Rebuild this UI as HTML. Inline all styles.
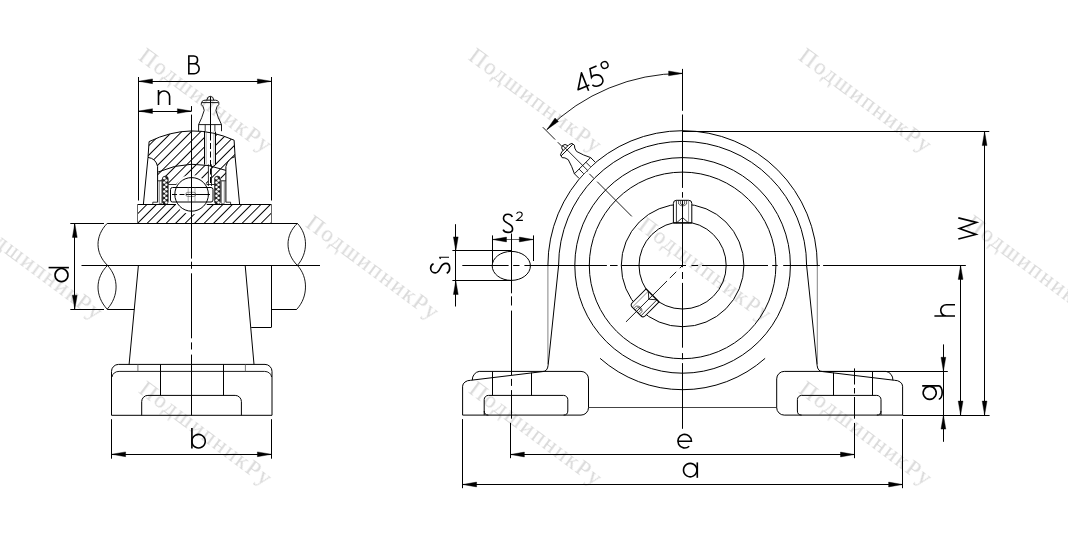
<!DOCTYPE html>
<html><head><meta charset="utf-8"><style>
html,body{margin:0;padding:0;background:#fff;overflow:hidden;}
svg{display:block;}
</style></head><body>
<svg width="1068" height="541" viewBox="0 0 1068 541">
<defs>
<pattern id="h" patternUnits="userSpaceOnUse" width="6.7175" height="10" patternTransform="rotate(45) translate(3.29 0)">
<line x1="3.36" y1="-1" x2="3.36" y2="11" stroke="#000" stroke-width="1"/>
</pattern>
</defs>
<rect width="1068" height="541" fill="#fff"/>
<g opacity="0.995">
<text x="137.5" y="58.5" font-family="Liberation Serif" font-size="23" letter-spacing="1.7" fill="#dadada" transform="rotate(36.6 137.5 58.5)">ПодшипникРу</text>
<text x="467.5" y="58.5" font-family="Liberation Serif" font-size="23" letter-spacing="1.7" fill="#dadada" transform="rotate(36.6 467.5 58.5)">ПодшипникРу</text>
<text x="797.5" y="58.5" font-family="Liberation Serif" font-size="23" letter-spacing="1.7" fill="#dadada" transform="rotate(36.6 797.5 58.5)">ПодшипникРу</text>
<text x="-32" y="226" font-family="Liberation Serif" font-size="23" letter-spacing="1.7" fill="#dadada" transform="rotate(36.6 -32 226)">ПодшипникРу</text>
<text x="304.5" y="226" font-family="Liberation Serif" font-size="23" letter-spacing="1.7" fill="#dadada" transform="rotate(36.6 304.5 226)">ПодшипникРу</text>
<text x="636.7" y="228.3" font-family="Liberation Serif" font-size="23" letter-spacing="1.7" fill="#dadada" transform="rotate(36.6 636.7 228.3)">ПодшипникРу</text>
<text x="964.5" y="226" font-family="Liberation Serif" font-size="23" letter-spacing="1.7" fill="#dadada" transform="rotate(36.6 964.5 226)">ПодшипникРу</text>
<text x="137.5" y="392" font-family="Liberation Serif" font-size="23" letter-spacing="1.7" fill="#dadada" transform="rotate(36.6 137.5 392)">ПодшипникРу</text>
<text x="467.5" y="392" font-family="Liberation Serif" font-size="23" letter-spacing="1.7" fill="#dadada" transform="rotate(36.6 467.5 392)">ПодшипникРу</text>
<text x="797.5" y="392" font-family="Liberation Serif" font-size="23" letter-spacing="1.7" fill="#dadada" transform="rotate(36.6 797.5 392)">ПодшипникРу</text>
</g>
<path d="M149.1,141.6 Q191.4,121.0 234.1,140.2 L235.1,156.6 Q228,158.5 225.9,166.5 L225.9,170.4 Q191.4,157.2 157.6,172.2 L157.6,166.5 Q156,158.5 148.0,157.4 Z" fill="url(#h)" stroke="none"/>
<path d="M157.6,172.2 Q191.4,157.2 225.9,170.4 L225.9,180.8 L221.0,180.8 L221.0,176.2 L214.5,176.2 L214.5,184.5 L206.5,184.5 A16.8,16.8 0 0 0 176.3,184.5 L168.3,184.5 L168.3,176.2 L162.4,176.2 L162.4,180.8 L157.6,180.8 Z" fill="url(#h)" stroke="none"/>
<path d="M137.8,204.2 L176.0,204.2 A16.8,16.8 0 0 0 206.8,204.2 L271.4,204.2 L271.4,223.4 L137.8,223.4 Z" fill="url(#h)" stroke="none"/>
<rect x="204.6" y="128" width="10.9" height="37" fill="#fff"/>
<rect x="208.4" y="160" width="3.1" height="25" fill="#fff"/>
<path d="M149.1,141.6 Q191.4,121.0 234.1,140.2" stroke="#000" stroke-width="1.0" fill="none" />
<path d="M149.1,141.6 L148.0,157.4 Q156,158.5 157.6,166.5 L157.6,202.2" stroke="#000" stroke-width="1.0" fill="none" />
<path d="M234.1,140.2 L235.1,156.6 Q228,158.5 225.9,166.5 L225.9,202.2" stroke="#000" stroke-width="1.0" fill="none" />
<line x1="148.00" y1="157.40" x2="143.40" y2="204.20" stroke="#000" stroke-width="1.0" />
<line x1="235.10" y1="156.60" x2="239.60" y2="204.20" stroke="#000" stroke-width="1.0" />
<path d="M157.6,202.2 L152.8,202.2 L152.8,204.2" stroke="#000" stroke-width="0.8" fill="none" />
<path d="M225.9,202.2 L230.6,202.2 L230.6,204.2" stroke="#000" stroke-width="0.8" fill="none" />
<path d="M157.6,172.2 Q191.4,157.2 225.9,170.4" stroke="#000" stroke-width="1.0" fill="none" />
<path d="M162.4,180.8 L157.6,180.8" stroke="#000" stroke-width="0.8" fill="none" />
<path d="M221.0,180.8 L225.9,180.8" stroke="#000" stroke-width="0.8" fill="none" />
<path d="M168.3,184.5 L176.3,184.5" stroke="#000" stroke-width="0.8" fill="none" />
<path d="M206.5,184.5 L214.5,184.5" stroke="#000" stroke-width="0.8" fill="none" />
<rect x="159.2" y="180.8" width="2.6" height="22.6" fill="none" stroke="#555" stroke-width="0.7"/>
<rect x="221.6" y="180.8" width="2.6" height="22.6" fill="none" stroke="#555" stroke-width="0.7"/>
<rect x="162.4" y="176.2" width="5.8" height="28" rx="2.6" fill="#222" stroke="#000" stroke-width="0.6"/>
<circle cx="164.30" cy="178.20" r="1.25" fill="#fff"/>
<circle cx="166.30" cy="180.40" r="1.25" fill="#fff"/>
<circle cx="164.30" cy="182.60" r="1.25" fill="#fff"/>
<circle cx="166.30" cy="184.80" r="1.25" fill="#fff"/>
<circle cx="164.30" cy="187.00" r="1.25" fill="#fff"/>
<circle cx="166.30" cy="189.20" r="1.25" fill="#fff"/>
<circle cx="164.30" cy="191.40" r="1.25" fill="#fff"/>
<circle cx="166.30" cy="193.60" r="1.25" fill="#fff"/>
<circle cx="164.30" cy="195.80" r="1.25" fill="#fff"/>
<circle cx="166.30" cy="198.00" r="1.25" fill="#fff"/>
<circle cx="164.30" cy="200.20" r="1.25" fill="#fff"/>
<circle cx="166.30" cy="202.40" r="1.25" fill="#fff"/>
<rect x="214.6" y="176.2" width="5.8" height="28" rx="2.6" fill="#222" stroke="#000" stroke-width="0.6"/>
<circle cx="216.50" cy="178.20" r="1.25" fill="#fff"/>
<circle cx="218.50" cy="180.40" r="1.25" fill="#fff"/>
<circle cx="216.50" cy="182.60" r="1.25" fill="#fff"/>
<circle cx="218.50" cy="184.80" r="1.25" fill="#fff"/>
<circle cx="216.50" cy="187.00" r="1.25" fill="#fff"/>
<circle cx="218.50" cy="189.20" r="1.25" fill="#fff"/>
<circle cx="216.50" cy="191.40" r="1.25" fill="#fff"/>
<circle cx="218.50" cy="193.60" r="1.25" fill="#fff"/>
<circle cx="216.50" cy="195.80" r="1.25" fill="#fff"/>
<circle cx="218.50" cy="198.00" r="1.25" fill="#fff"/>
<circle cx="216.50" cy="200.20" r="1.25" fill="#fff"/>
<circle cx="218.50" cy="202.40" r="1.25" fill="#fff"/>
<circle cx="191.6" cy="194.4" r="16.8" stroke="#000" stroke-width="1.0" fill="none"/>
<rect x="170.5" y="187.5" width="42.5" height="14.5" rx="2" fill="none" stroke="#000" stroke-width="1"/>
<line x1="172.00" y1="194.50" x2="186.00" y2="194.50" stroke="#000" stroke-width="1.0" stroke-dasharray="5,2.5"/>
<line x1="186.00" y1="194.50" x2="210.00" y2="194.50" stroke="#000" stroke-width="1.0" />
<rect x="185.8" y="192.3" width="10" height="4.2" rx="2" fill="none" stroke="#444" stroke-width="0.6"/>
<line x1="188.20" y1="187.20" x2="188.20" y2="202.20" stroke="#666" stroke-width="0.5" />
<line x1="195.00" y1="187.20" x2="195.00" y2="202.20" stroke="#666" stroke-width="0.5" />
<line x1="204.50" y1="131.00" x2="204.50" y2="164.60" stroke="#000" stroke-width="1.0" />
<line x1="215.50" y1="131.60" x2="215.50" y2="165.00" stroke="#000" stroke-width="1.0" />
<line x1="206.20" y1="131.00" x2="206.20" y2="164.40" stroke="#777" stroke-width="0.6" />
<line x1="213.90" y1="131.40" x2="213.90" y2="164.80" stroke="#777" stroke-width="0.6" />
<line x1="210.50" y1="96.50" x2="210.50" y2="140.50" stroke="#000" stroke-width="1.0" />
<line x1="210.50" y1="143.00" x2="210.50" y2="184.00" stroke="#000" stroke-width="1.0" stroke-dasharray="6,2.5"/>
<line x1="208.40" y1="164.40" x2="208.40" y2="186.00" stroke="#000" stroke-width="0.8" />
<line x1="211.50" y1="164.40" x2="211.50" y2="186.00" stroke="#000" stroke-width="0.8" />
<line x1="137.80" y1="204.50" x2="176.00" y2="204.50" stroke="#000" stroke-width="1.0" />
<line x1="206.80" y1="204.50" x2="271.40" y2="204.50" stroke="#000" stroke-width="1.0" />
<line x1="137.50" y1="204.20" x2="137.50" y2="223.40" stroke="#666" stroke-width="1.0" />
<line x1="271.50" y1="204.20" x2="271.50" y2="223.40" stroke="#666" stroke-width="1.0" />
<path d="M198.6,131.2 L198.6,124.6 L221.5,124.6 L221.5,131.2 M198.6,124.6 Q202.0,118 204.2,110.3 Q203.5,106 201.3,104.5 Q201.0,100.5 205,100.2 L215.5,100.2 Q219.5,100.5 218.8,104.5 Q216.6,106 215.9,110.3 Q218,118 221.5,124.6 M206.8,100.2 Q207.2,96.3 210.3,96.3 Q213.4,96.3 213.8,100.2 M201.8,102.6 L218.4,102.6" stroke="#000" stroke-width="0.9" fill="none" />
<line x1="205.20" y1="124.60" x2="205.20" y2="131.20" stroke="#000" stroke-width="0.8" />
<line x1="214.90" y1="124.60" x2="214.90" y2="131.20" stroke="#000" stroke-width="0.8" />
<line x1="107.20" y1="223.50" x2="297.40" y2="223.50" stroke="#000" stroke-width="1.0" />
<line x1="107.20" y1="309.50" x2="134.30" y2="309.50" stroke="#000" stroke-width="1.0" />
<line x1="271.40" y1="309.50" x2="296.80" y2="309.50" stroke="#000" stroke-width="1.0" />
<path d="M107.2,223.4 C94.9,236 94.9,253 107.5,265.4" stroke="#000" stroke-width="0.9" fill="none" />
<path d="M107.5,265.4 C94.9,278 94.9,296 107.2,309.2" stroke="#000" stroke-width="0.9" fill="none" />
<path d="M107.5,265.4 C119.0,278 119.0,296 107.2,309.2" stroke="#000" stroke-width="0.9" fill="none" />
<path d="M297.4,223.4 C284.9,235 284.9,253 297.4,265.4" stroke="#000" stroke-width="0.9" fill="none" />
<path d="M297.4,223.4 C308.2,235 308.2,253 297.4,265.4" stroke="#000" stroke-width="0.9" fill="none" />
<path d="M297.4,265.4 C308.3,277 308.3,297 296.8,309.2" stroke="#000" stroke-width="0.9" fill="none" />
<line x1="138.40" y1="265.40" x2="129.10" y2="364.40" stroke="#000" stroke-width="1.0" />
<line x1="245.20" y1="265.40" x2="254.00" y2="364.40" stroke="#000" stroke-width="1.0" />
<line x1="271.50" y1="265.40" x2="271.50" y2="327.30" stroke="#000" stroke-width="1.0" />
<line x1="251.20" y1="327.50" x2="271.40" y2="327.50" stroke="#000" stroke-width="1.0" />
<path d="M111.5,415.3 L111.5,371.4 A7,7 0 0 1 118.5,364.4 L265.0,364.4 A7,7 0 0 1 272.0,371.4 L272.0,415.3 Z" stroke="#000" stroke-width="1.0" fill="none" />
<path d="M112.0,377.0 A7,6 0 0 1 119.1,371.4 L264.6,371.4 A7,6 0 0 1 271.6,377.0" stroke="#000" stroke-width="0.9" fill="none" />
<line x1="137.90" y1="364.40" x2="137.90" y2="371.40" stroke="#555" stroke-width="0.8" />
<line x1="245.40" y1="364.40" x2="245.40" y2="371.40" stroke="#555" stroke-width="0.8" />
<line x1="160.50" y1="364.40" x2="160.50" y2="395.40" stroke="#000" stroke-width="1.0" />
<line x1="223.50" y1="364.40" x2="223.50" y2="395.40" stroke="#000" stroke-width="1.0" />
<path d="M141.7,415.3 L141.7,401.6 A6.2,6.2 0 0 1 147.9,395.4 L235.2,395.4 A6.2,6.2 0 0 1 241.4,401.6 L241.4,415.3" stroke="#000" stroke-width="1.0" fill="none" />
<line x1="191.50" y1="106.10" x2="191.50" y2="111.20" stroke="#000" stroke-width="1.0" />
<line x1="191.50" y1="114.60" x2="191.50" y2="258.60" stroke="#000" stroke-width="1.0" />
<line x1="191.50" y1="261.70" x2="191.50" y2="268.80" stroke="#000" stroke-width="1.0" />
<line x1="191.50" y1="273.30" x2="191.50" y2="338.30" stroke="#000" stroke-width="1.0" />
<line x1="191.50" y1="342.40" x2="191.50" y2="349.50" stroke="#000" stroke-width="1.0" />
<line x1="191.50" y1="354.60" x2="191.50" y2="415.30" stroke="#000" stroke-width="1.0" />
<line x1="81.50" y1="265.50" x2="320.00" y2="265.50" stroke="#000" stroke-width="1.0" />
<line x1="138.50" y1="77.00" x2="138.50" y2="200.50" stroke="#000" stroke-width="1.0" />
<line x1="271.50" y1="77.00" x2="271.50" y2="200.50" stroke="#000" stroke-width="1.0" />
<line x1="138.50" y1="81.50" x2="271.40" y2="81.50" stroke="#000" stroke-width="1.0" />
<path d="M138.50,81.30 L152.50,78.90 L152.50,83.70 Z" fill="#000" stroke="#000" stroke-width="0.4"/>
<path d="M271.40,81.30 L257.40,83.70 L257.40,78.90 Z" fill="#000" stroke="#000" stroke-width="0.4"/>
<line x1="138.50" y1="111.50" x2="191.40" y2="111.50" stroke="#000" stroke-width="1.0" />
<path d="M138.50,111.10 L152.50,108.70 L152.50,113.50 Z" fill="#000" stroke="#000" stroke-width="0.4"/>
<path d="M191.40,111.10 L177.40,113.50 L177.40,108.70 Z" fill="#000" stroke="#000" stroke-width="0.4"/>
<line x1="70.30" y1="223.50" x2="104.00" y2="223.50" stroke="#000" stroke-width="1.0" />
<line x1="70.30" y1="309.50" x2="104.00" y2="309.50" stroke="#000" stroke-width="1.0" />
<line x1="74.50" y1="223.40" x2="74.50" y2="309.20" stroke="#000" stroke-width="1.0" />
<path d="M74.80,223.40 L77.20,237.40 L72.40,237.40 Z" fill="#000" stroke="#000" stroke-width="0.4"/>
<path d="M74.80,309.20 L72.40,295.20 L77.20,295.20 Z" fill="#000" stroke="#000" stroke-width="0.4"/>
<line x1="111.50" y1="419.20" x2="111.50" y2="458.70" stroke="#000" stroke-width="1.0" />
<line x1="271.50" y1="419.20" x2="271.50" y2="458.70" stroke="#000" stroke-width="1.0" />
<line x1="111.60" y1="454.50" x2="271.40" y2="454.50" stroke="#000" stroke-width="1.0" />
<path d="M111.60,454.30 L125.60,451.90 L125.60,456.70 Z" fill="#000" stroke="#000" stroke-width="0.4"/>
<path d="M271.40,454.30 L257.40,456.70 L257.40,451.90 Z" fill="#000" stroke="#000" stroke-width="0.4"/>
<path d="M547.9,265.4 A134.7,134.7 0 0 1 817.3,265.4" stroke="#000" stroke-width="1.0" fill="none" />
<line x1="547.90" y1="265.40" x2="547.90" y2="364.00" stroke="#666" stroke-width="0.8" />
<line x1="817.30" y1="265.40" x2="817.30" y2="364.00" stroke="#666" stroke-width="0.8" />
<path d="M558.6,265.4 A124,124 0 0 1 806.6,265.4" stroke="#000" stroke-width="1.0" fill="none" />
<path d="M558.6,265.4 L548.1,365.3 Q547.6,371.4 542.5,371.6" stroke="#000" stroke-width="1.0" fill="none" />
<path d="M806.6,265.4 L817.1,365.3 Q817.6,371.4 822.7,371.6" stroke="#000" stroke-width="1.0" fill="none" />
<circle cx="682.6" cy="265.4" r="107.8" stroke="#000" stroke-width="1.0" fill="none"/>
<circle cx="682.6" cy="265.4" r="93.3" stroke="#000" stroke-width="1.0" fill="none"/>
<circle cx="682.6" cy="265.4" r="61.3" stroke="#000" stroke-width="1.0" fill="none"/>
<circle cx="682.6" cy="265.4" r="43.6" stroke="#000" stroke-width="1.0" fill="none"/>
<path d="M765.13,358.35 A124.3,124.3 0 0 1 600.07,358.35" stroke="#000" stroke-width="1.0" fill="none" />
<line x1="588.50" y1="407.50" x2="776.70" y2="407.50" stroke="#444" stroke-width="1.0" />
<path d="M588.50,407.6 A7.5,7.5 0 0 1 581.00,415.1 L462.60,415.1 L462.60,386.2 A8,6 0 0 1 470.60,380.3 L542.50,371.6" stroke="#000" stroke-width="1.0" fill="none" />
<path d="M472.30,380.2 A8,8.5 0 0 1 479.20,371.4 L581.00,371.4 A7.5,7.5 0 0 1 588.50,378.9 L588.50,407.6" stroke="#000" stroke-width="1.0" fill="none" />
<path d="M484.20,415.1 L484.20,399.6 A4.2,4.2 0 0 1 488.40,395.4 L563.60,395.4 A4.2,4.2 0 0 1 567.80,399.6 L567.80,411 A4.2,4.2 0 0 1 563.60,415.1" stroke="#000" stroke-width="1.0" fill="none" />
<path d="M484.20,411 A4.2,4.2 0 0 0 488.40,415.1" stroke="#000" stroke-width="1.0" fill="none" />
<line x1="492.50" y1="371.40" x2="492.50" y2="395.40" stroke="#000" stroke-width="1.0" />
<line x1="531.50" y1="372.60" x2="531.50" y2="395.40" stroke="#000" stroke-width="1.0" />
<path d="M776.70,407.6 A7.5,7.5 0 0 0 784.20,415.1 L902.60,415.1 L902.60,386.2 A8,6 0 0 0 894.60,380.3 L822.70,371.6" stroke="#000" stroke-width="1.0" fill="none" />
<path d="M892.90,380.2 A8,8.5 0 0 0 886.00,371.4 L784.20,371.4 A7.5,7.5 0 0 0 776.70,378.9 L776.70,407.6" stroke="#000" stroke-width="1.0" fill="none" />
<path d="M881.00,415.1 L881.00,399.6 A4.2,4.2 0 0 0 876.80,395.4 L801.60,395.4 A4.2,4.2 0 0 0 797.40,399.6 L797.40,411 A4.2,4.2 0 0 0 801.60,415.1" stroke="#000" stroke-width="1.0" fill="none" />
<path d="M881.00,411 A4.2,4.2 0 0 1 876.80,415.1" stroke="#000" stroke-width="1.0" fill="none" />
<line x1="872.50" y1="371.40" x2="872.50" y2="395.40" stroke="#000" stroke-width="1.0" />
<line x1="833.50" y1="372.60" x2="833.50" y2="395.40" stroke="#000" stroke-width="1.0" />
<g transform="rotate(0 682.6 265.4)"><path d="M673.4,222.9 L673.4,203.4 Q673.4,200.3 676.4,200.3 L688.8000000000001,200.3 Q691.8000000000001,200.3 691.8000000000001,203.4 L691.8000000000001,222.9 Z" fill="#fff" stroke="#000" stroke-width="1"/><line x1="676.4" y1="200.5" x2="676.4" y2="222.9" stroke="#000" stroke-width="0.8"/><line x1="688.6" y1="200.5" x2="688.6" y2="222.9" stroke="#777" stroke-width="0.8"/><path d="M676.4,222.9 L682.6,217.6 L688.6,222.9" fill="none" stroke="#000" stroke-width="0.8"/><path d="M678.6,200.5 L678.6,204 Q682.6,208 686.6,204 L686.6,200.5 M680.6,200.5 L680.6,204 Q682.6,206 684.6,204 L684.6,200.5" fill="none" stroke="#000" stroke-width="0.6"/><line x1="673.4" y1="222.9" x2="691.8000000000001" y2="222.9" stroke="#000" stroke-width="1.2"/></g>
<g transform="rotate(-135 682.6 265.4)"><path d="M673.4,222.9 L673.4,203.4 Q673.4,200.3 676.4,200.3 L688.8000000000001,200.3 Q691.8000000000001,200.3 691.8000000000001,203.4 L691.8000000000001,222.9 Z" fill="#fff" stroke="#000" stroke-width="1"/><line x1="676.4" y1="200.5" x2="676.4" y2="222.9" stroke="#000" stroke-width="0.8"/><line x1="688.6" y1="200.5" x2="688.6" y2="222.9" stroke="#777" stroke-width="0.8"/><path d="M676.4,222.9 L682.6,217.6 L688.6,222.9" fill="none" stroke="#000" stroke-width="0.8"/><path d="M678.6,200.5 L678.6,204 Q682.6,208 686.6,204 L686.6,200.5 M680.6,200.5 L680.6,204 Q682.6,206 684.6,204 L684.6,200.5" fill="none" stroke="#000" stroke-width="0.6"/><line x1="673.4" y1="222.9" x2="691.8000000000001" y2="222.9" stroke="#000" stroke-width="1.2"/></g>
<line x1="682.50" y1="68.90" x2="682.50" y2="110.80" stroke="#000" stroke-width="1.0" />
<line x1="682.50" y1="114.50" x2="682.50" y2="187.90" stroke="#000" stroke-width="1.0" />
<line x1="682.50" y1="192.10" x2="682.50" y2="197.70" stroke="#000" stroke-width="1.0" />
<line x1="682.50" y1="200.30" x2="682.50" y2="267.20" stroke="#000" stroke-width="1.0" />
<line x1="682.50" y1="272.00" x2="682.50" y2="279.00" stroke="#000" stroke-width="1.0" />
<line x1="682.50" y1="282.90" x2="682.50" y2="347.70" stroke="#000" stroke-width="1.0" />
<line x1="682.50" y1="353.10" x2="682.50" y2="359.40" stroke="#000" stroke-width="1.0" />
<line x1="682.50" y1="363.10" x2="682.50" y2="428.80" stroke="#000" stroke-width="1.0" />
<line x1="462.30" y1="265.50" x2="508.60" y2="265.50" stroke="#000" stroke-width="1.0" />
<line x1="513.20" y1="265.50" x2="519.50" y2="265.50" stroke="#000" stroke-width="1.0" />
<line x1="524.40" y1="265.50" x2="606.90" y2="265.50" stroke="#000" stroke-width="1.0" />
<line x1="610.00" y1="265.50" x2="617.60" y2="265.50" stroke="#000" stroke-width="1.0" />
<line x1="621.30" y1="265.50" x2="686.00" y2="265.50" stroke="#000" stroke-width="1.0" />
<line x1="691.50" y1="265.50" x2="698.20" y2="265.50" stroke="#000" stroke-width="1.0" />
<line x1="701.90" y1="265.50" x2="768.00" y2="265.50" stroke="#000" stroke-width="1.0" />
<line x1="772.20" y1="265.50" x2="777.70" y2="265.50" stroke="#000" stroke-width="1.0" />
<line x1="783.20" y1="265.50" x2="819.90" y2="265.50" stroke="#000" stroke-width="1.0" />
<line x1="823.30" y1="265.50" x2="965.60" y2="265.50" stroke="#000" stroke-width="1.0" />
<line x1="682.60" y1="265.40" x2="679.77" y2="268.23" stroke="#000" stroke-width="0.9" />
<line x1="676.23" y1="271.76" x2="669.86" y2="278.12" stroke="#000" stroke-width="0.9" />
<line x1="667.03" y1="280.94" x2="625.98" y2="321.92" stroke="#000" stroke-width="0.9" />
<line x1="542.80" y1="127.20" x2="555.16" y2="139.59" stroke="#000" stroke-width="0.9" />
<line x1="557.77" y1="142.21" x2="587.30" y2="171.80" stroke="#000" stroke-width="0.9" />
<line x1="589.35" y1="173.85" x2="593.87" y2="178.38" stroke="#000" stroke-width="0.9" />
<line x1="597.12" y1="181.64" x2="631.80" y2="216.40" stroke="#000" stroke-width="0.9" />
<g transform="translate(587.35 170.15) rotate(-45) translate(-210.3 -131.2)"><path d="M198.6,131.2 L198.6,124.6 L221.5,124.6 L221.5,131.2 M198.6,124.6 Q202.0,118 204.2,110.3 Q203.5,106 201.3,104.5 Q201.0,100.5 205,100.2 L215.5,100.2 Q219.5,100.5 218.8,104.5 Q216.6,106 215.9,110.3 Q218,118 221.5,124.6 M206.8,100.2 Q207.2,96.3 210.3,96.3 Q213.4,96.3 213.8,100.2 M201.8,102.6 L218.4,102.6" fill="#fff" stroke="#000" stroke-width="0.9"/><line x1="205.2" y1="124.6" x2="205.2" y2="131.2" stroke="#000" stroke-width="0.8"/><line x1="214.9" y1="124.6" x2="214.9" y2="131.2" stroke="#000" stroke-width="0.8"/><line x1="210.3" y1="96" x2="210.3" y2="132" stroke="#000" stroke-width="0.8"/></g>
<ellipse cx="511.3" cy="265.9" rx="19.1" ry="14.5" fill="none" stroke="#000" stroke-width="1"/>
<line x1="511.50" y1="233.50" x2="511.50" y2="293.30" stroke="#000" stroke-width="1.0" />
<line x1="511.50" y1="296.30" x2="511.50" y2="305.50" stroke="#000" stroke-width="1.0" />
<line x1="511.50" y1="310.60" x2="511.50" y2="375.00" stroke="#000" stroke-width="1.0" />
<line x1="511.50" y1="378.90" x2="511.50" y2="385.90" stroke="#000" stroke-width="1.0" />
<line x1="511.50" y1="390.10" x2="511.50" y2="418.70" stroke="#000" stroke-width="1.0" />
<line x1="854.50" y1="368.40" x2="854.50" y2="384.50" stroke="#000" stroke-width="1.0" />
<line x1="854.50" y1="388.00" x2="854.50" y2="393.50" stroke="#000" stroke-width="1.0" />
<line x1="854.50" y1="397.00" x2="854.50" y2="418.70" stroke="#000" stroke-width="1.0" />
<path d="M546.84,129.64 A192.0,192.0 0 0 1 682.60,73.40" stroke="#000" stroke-width="0.9" fill="none" />
<path d="M682.60,73.40 L668.60,75.80 L668.60,71.00 Z" fill="#000" stroke="#000" stroke-width="0.4"/>
<path d="M546.84,129.64 L555.04,118.04 L558.43,121.43 Z" fill="#000" stroke="#000" stroke-width="0.4"/>
<line x1="682.60" y1="131.50" x2="989.30" y2="131.50" stroke="#000" stroke-width="1.0" />
<line x1="984.50" y1="131.60" x2="984.50" y2="415.10" stroke="#000" stroke-width="1.0" />
<path d="M984.60,131.60 L987.00,145.60 L982.20,145.60 Z" fill="#000" stroke="#000" stroke-width="0.4"/>
<path d="M984.60,415.10 L982.20,401.10 L987.00,401.10 Z" fill="#000" stroke="#000" stroke-width="0.4"/>
<line x1="823.30" y1="265.50" x2="965.60" y2="265.50" stroke="#000" stroke-width="1.0" />
<line x1="960.50" y1="265.40" x2="960.50" y2="415.10" stroke="#000" stroke-width="1.0" />
<path d="M960.60,265.40 L963.00,279.40 L958.20,279.40 Z" fill="#000" stroke="#000" stroke-width="0.4"/>
<path d="M960.60,415.10 L958.20,401.10 L963.00,401.10 Z" fill="#000" stroke="#000" stroke-width="0.4"/>
<line x1="902.60" y1="415.50" x2="989.60" y2="415.50" stroke="#000" stroke-width="1.0" />
<line x1="822.70" y1="371.50" x2="947.80" y2="371.50" stroke="#000" stroke-width="1.0" />
<line x1="943.50" y1="344.40" x2="943.50" y2="441.80" stroke="#000" stroke-width="1.0" />
<path d="M943.40,371.30 L941.00,357.30 L945.80,357.30 Z" fill="#000" stroke="#000" stroke-width="0.4"/>
<path d="M943.40,415.10 L945.80,429.10 L941.00,429.10 Z" fill="#000" stroke="#000" stroke-width="0.4"/>
<line x1="510.50" y1="422.90" x2="510.50" y2="458.20" stroke="#000" stroke-width="1.0" />
<line x1="854.50" y1="422.90" x2="854.50" y2="458.20" stroke="#000" stroke-width="1.0" />
<line x1="510.40" y1="454.50" x2="854.50" y2="454.50" stroke="#000" stroke-width="1.0" />
<path d="M510.40,454.50 L524.40,452.10 L524.40,456.90 Z" fill="#000" stroke="#000" stroke-width="0.4"/>
<path d="M854.50,454.50 L840.50,456.90 L840.50,452.10 Z" fill="#000" stroke="#000" stroke-width="0.4"/>
<line x1="462.50" y1="419.10" x2="462.50" y2="488.20" stroke="#000" stroke-width="1.0" />
<line x1="902.50" y1="419.10" x2="902.50" y2="488.20" stroke="#000" stroke-width="1.0" />
<line x1="462.60" y1="484.50" x2="902.60" y2="484.50" stroke="#000" stroke-width="1.0" />
<path d="M462.60,484.50 L476.60,482.10 L476.60,486.90 Z" fill="#000" stroke="#000" stroke-width="0.4"/>
<path d="M902.60,484.50 L888.60,486.90 L888.60,482.10 Z" fill="#000" stroke="#000" stroke-width="0.4"/>
<line x1="452.40" y1="250.50" x2="511.30" y2="250.50" stroke="#000" stroke-width="1.0" />
<line x1="452.40" y1="280.50" x2="511.30" y2="280.50" stroke="#000" stroke-width="1.0" />
<line x1="455.50" y1="224.20" x2="455.50" y2="306.50" stroke="#000" stroke-width="1.0" />
<path d="M455.80,250.90 L453.40,236.90 L458.20,236.90 Z" fill="#000" stroke="#000" stroke-width="0.4"/>
<path d="M455.80,280.50 L458.20,294.50 L453.40,294.50 Z" fill="#000" stroke="#000" stroke-width="0.4"/>
<line x1="492.50" y1="235.40" x2="492.50" y2="263.00" stroke="#000" stroke-width="1.0" />
<line x1="533.50" y1="235.40" x2="533.50" y2="261.00" stroke="#000" stroke-width="1.0" />
<line x1="492.50" y1="239.50" x2="533.30" y2="239.50" stroke="#000" stroke-width="0.6" />
<path d="M492.50,239.50 L506.50,237.10 L506.50,241.90 Z" fill="#000" stroke="#000" stroke-width="0.4"/>
<path d="M533.30,239.50 L519.30,241.90 L519.30,237.10 Z" fill="#000" stroke="#000" stroke-width="0.4"/>
<path d="M188.85,74.6 L188.85,55.95 L193.82,55.95 A3.93,3.93 0 0 1 193.82,63.8 L188.85,63.8 M193.82,63.8 L194.18,63.8 A4.97,4.97 0 0 1 194.18,73.75 L188.0,73.75" fill="none" stroke="#000" stroke-width="1.6" stroke-linecap="butt" stroke-linejoin="miter"/>
<path d="M158.5,90.1 L158.5,104.9 M158.5,96.5 A5.55,5.55 0 0 1 169.6,96.5 L169.6,104.9" fill="none" stroke="#000" stroke-width="1.6" stroke-linecap="butt" stroke-linejoin="miter"/>
<path d="M191.9,428.1 L191.9,448.6" fill="none" stroke="#000" stroke-width="1.6" stroke-linecap="butt" stroke-linejoin="miter"/>
<path d="M205.25,441.2 A6.7,6.7 0 1 1 205.25,441.19" fill="none" stroke="#000" stroke-width="1.6" stroke-linecap="butt" stroke-linejoin="miter"/>
<path d="M48.6,267.6 L68.9,267.6" fill="none" stroke="#000" stroke-width="1.6" stroke-linecap="butt" stroke-linejoin="miter"/>
<path d="M68.0,275.1 A6.5,6.5 0 1 1 68.0,275.09" fill="none" stroke="#000" stroke-width="1.6" stroke-linecap="butt" stroke-linejoin="miter"/>
<path d="M677.85,441.2 L691.45,441.2 A6.8,6.8 0 1 0 689.20,446.25" fill="none" stroke="#000" stroke-width="1.6" stroke-linecap="butt" stroke-linejoin="miter"/>
<path d="M696.9,470.1 A6.7,6.7 0 1 1 696.9,470.09" fill="none" stroke="#000" stroke-width="1.6" stroke-linecap="butt" stroke-linejoin="miter"/>
<path d="M697.3,462.4 L697.3,477.8" fill="none" stroke="#000" stroke-width="1.6" stroke-linecap="butt" stroke-linejoin="miter"/>
<path d="M512.3,217.0 C511.6,215.2 510.0,214.2 508.0,214.2 C505.4,214.2 503.5,216.0 503.5,218.6 C503.5,221.6 506.3,222.6 508.6,223.7 C511.0,224.9 512.6,226.4 512.6,228.9 C512.6,231.2 510.6,232.4 508.0,232.4 C505.6,232.4 503.9,231.3 503.1,229.6" fill="none" stroke="#000" stroke-width="1.6" stroke-linecap="butt" stroke-linejoin="miter"/>
<path d="M516.6,213.8 C517.0,212.6 518.2,212.05 519.4,212.05 C521.0,212.05 522.2,213.0 522.2,214.5 C522.2,215.6 521.5,216.3 520.6,217.1 L516.7,220.35 L522.9,220.35" fill="none" stroke="#000" stroke-width="1.1" stroke-linecap="butt" stroke-linejoin="miter"/>
<g transform="translate(429.8 273.8) scale(1.045 1.037) rotate(-90) translate(-502.6 -213.4)"><path d="M512.3,217.0 C511.6,215.2 510.0,214.2 508.0,214.2 C505.4,214.2 503.5,216.0 503.5,218.6 C503.5,221.6 506.3,222.6 508.6,223.7 C511.0,224.9 512.6,226.4 512.6,228.9 C512.6,231.2 510.6,232.4 508.0,232.4 C505.6,232.4 503.9,231.3 503.1,229.6" fill="none" stroke="#000" stroke-width="1.6"/></g>
<path d="M439.3,257.2 L449.0,257.2 M439.3,257.2 L440.6,258.8" fill="none" stroke="#000" stroke-width="1.1" stroke-linecap="butt" stroke-linejoin="miter"/>
<path d="M958.3,217.9 L976.6,222.4 L959.4,228.6 L976.0,234.5 L958.3,239.1" fill="none" stroke="#000" stroke-width="1.6" stroke-linecap="butt" stroke-linejoin="miter"/>
<path d="M934.4,316.0 L955.0,316.0 M946.35,316.0 A5.65,5.65 0 0 1 946.35,304.7 L955.0,304.7" fill="none" stroke="#000" stroke-width="1.6" stroke-linecap="butt" stroke-linejoin="miter"/>
<path d="M922.2,385.9 L938.8,385.9 A3.4,6.6 0 0 1 938.8,399.1" fill="none" stroke="#000" stroke-width="1.6" stroke-linecap="butt" stroke-linejoin="miter"/>
<path d="M929.7,386.35 A6.5,6.5 0 1 1 929.69,386.35" fill="none" stroke="#000" stroke-width="1.6" stroke-linecap="butt" stroke-linejoin="miter"/>
<g transform="translate(577.7 89.9) rotate(-22.8) translate(0 4.75)"><path d="M9.7,0.3 L10.1,-19.0 L0.4,-4.75 L12.6,-4.75" fill="none" stroke="#000" stroke-width="1.6" stroke-linejoin="round"/><path d="M26.6,-19.4 L19.5,-19.4 L17.6,-11.0 C19,-12 21,-12.1 23,-11.4 C26.2,-10.2 27.2,-7.5 27.2,-5.4 C27.2,-2.5 24.8,-0.4 21.6,-0.4 C18.9,-0.4 16.6,-1.7 15.5,-3.8" fill="none" stroke="#000" stroke-width="1.6"/><circle cx="34.45" cy="-17.3" r="3.4" fill="none" stroke="#000" stroke-width="1.4"/></g>
</svg>
</body></html>
